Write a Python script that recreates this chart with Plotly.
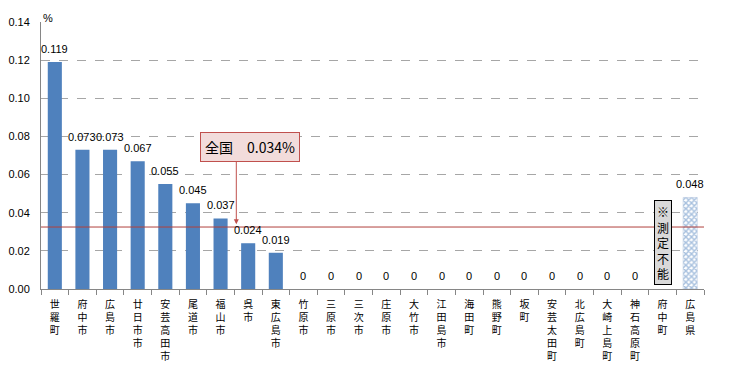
import plotly.graph_objects as go

categories = ["世羅町", "府中市", "広島市", "廿日市市", "安芸高田市", "尾道市", "福山市", "呉市",
              "東広島市", "竹原市", "三原市", "三次市", "庄原市", "大竹市", "江田島市", "海田町",
              "熊野町", "坂町", "安芸太田町", "北広島町", "大崎上島町", "神石高原町", "府中町", "広島県"]
values = [0.119, 0.073, 0.073, 0.067, 0.055, 0.045, 0.037, 0.024, 0.019,
          0, 0, 0, 0, 0, 0, 0, 0, 0, 0, 0, 0, 0, None, 0.048]
value_labels = ["0.119", "0.073", "0.073", "0.067", "0.055", "0.045", "0.037", "0.024", "0.019",
                "0", "0", "0", "0", "0", "0", "0", "0", "0", "0", "0", "0", "0", "", "0.048"]
national_line = 0.0325
national_arrow_y = 0.034
national_label = "全国　0.034%"
unmeasurable_label = "※<br>測<br>定<br>不<br>能"
y_ticks = [0.00, 0.02, 0.04, 0.06, 0.08, 0.10, 0.12, 0.14]

BLUE = "#4F81BD"
JP = "Noto Sans CJK JP"
NUM = "Liberation Sans"

muni = categories[:-1]
muni_vals = values[:-1]

fig = go.Figure()
fig.add_trace(go.Bar(x=muni, y=muni_vals, marker=dict(color=BLUE, line=dict(width=0)),
                     width=0.51, showlegend=False, hoverinfo="x+y"))
fig.add_trace(go.Bar(x=[categories[-1]], y=[values[-1]],
                     marker=dict(color="white", line=dict(color="#A9BDD9", width=0.5),
                                 pattern=dict(shape="x", fgcolor=BLUE, bgcolor="white",
                                              size=4, solidity=0.6, fillmode="overlay")),
                     width=0.51, showlegend=False))

# data labels
for c, v, t in zip(categories, values, value_labels):
    if v is None or t == "":
        continue
    fig.add_annotation(x=c, y=v, text=t, showarrow=False, yshift=13, yanchor="middle",
                       font=dict(family=NUM, size=11, color="black"))

# national line
fig.add_shape(type="line", xref="paper", x0=0, x1=1, y0=national_line, y1=national_line,
              line=dict(color="#B0403D", width=1))

# national label box
fig.add_annotation(x=7.07, y=0.0745, text=national_label, showarrow=False,
                   font=dict(family=JP, size=14, color="black"),
                   bgcolor="#F2DCDB", bordercolor="#C0504D", borderwidth=1, borderpad=4)
fig.add_annotation(x=6.57, y=national_arrow_y, ax=6.57, ay=0.0675, axref="x", ayref="y",
                   text="", showarrow=True, arrowhead=2, arrowsize=1, arrowwidth=1,
                   arrowcolor="#C0504D")

# unmeasurable box
fig.add_annotation(x=categories[-2], y=0.0244, text=unmeasurable_label, showarrow=False,
                   font=dict(family=JP, size=12, color="black"),
                   bgcolor="#D9D9D9", bordercolor="black", borderwidth=1, borderpad=2)

# % unit label
fig.add_annotation(xref="paper", yref="paper", x=0.0, y=1.0, yshift=12, xshift=0,
                   text="%", showarrow=False, xanchor="left",
                   font=dict(family=NUM, size=11, color="black"))

# page body has an ~8px margin; the figure is sized/offset to compensate
fig.update_layout(
    width=726, height=362,
    margin=dict(l=33, r=30, t=14, b=81, autoexpand=False),
    plot_bgcolor="white", paper_bgcolor="white",
    bargap=0.45,
    xaxis=dict(
        type="category", automargin=False,
        tickmode="array", tickvals=categories,
        ticktext=["<br>".join(list(c)) for c in categories],
        tickfont=dict(family=JP, size=10, color="black"),
        tickangle=0,
        showline=True, linecolor="#868686", linewidth=1,
        ticks="outside", tickson="boundaries", ticklen=5, tickcolor="#868686",
        showgrid=False, range=[-0.5, 23.5], ticklabelstandoff=6,
    ),
    yaxis=dict(
        automargin=False,
        range=[0, 0.14], tickvals=y_ticks, tickformat=".2f",
        tickfont=dict(family=NUM, size=11, color="black"),
        showline=True, linecolor="#868686", linewidth=1,
        showgrid=True, gridcolor="#A6A6A6", griddash="dash", gridwidth=1,
        zeroline=False, ticks="", ticklabelstandoff=8,
    ),
)

fig.write_html("out.html")
